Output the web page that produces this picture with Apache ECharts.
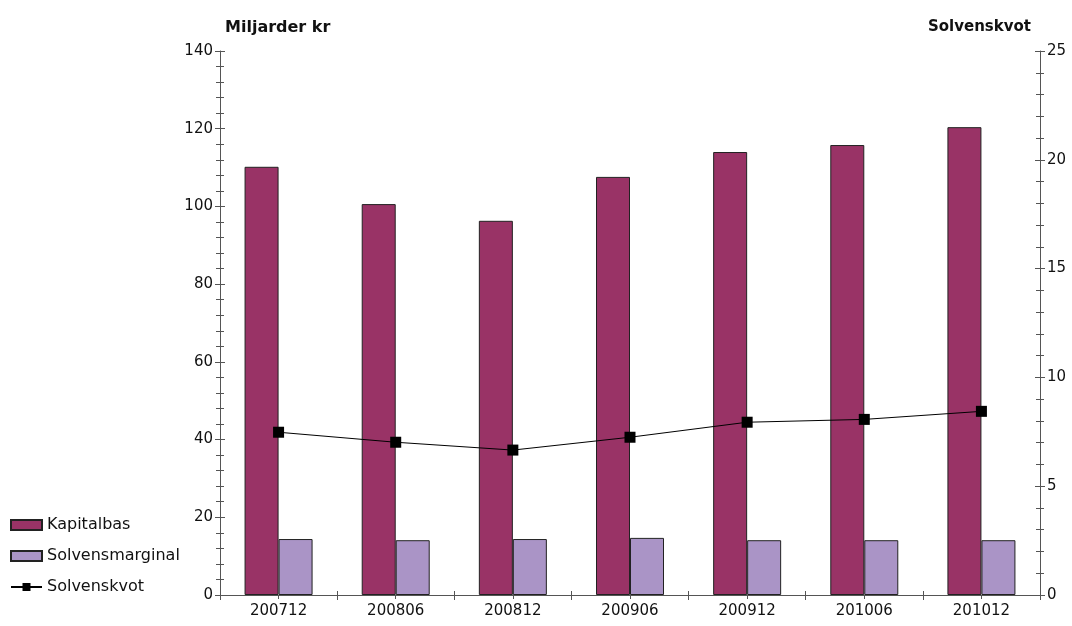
<!DOCTYPE html>
<html>
<head>
<meta charset="utf-8">
<script src="https://cdn.jsdelivr.net/npm/echarts@6/dist/echarts.min.js"></script>
<style>html,body{margin:0;padding:0;background:#fff}#c{width:1072px;height:626px}</style>
</head>
<body>
<div id="c"></div>
<script>
const categories = ['200712', '200806', '200812', '200906', '200912', '201006', '201012'];
const kapitalbas = [110.2, 100.6, 96.3, 107.6, 114.0, 115.8, 120.4];
const solvensmarginal = [14.4, 14.1, 14.4, 14.7, 14.1, 14.1, 14.1];
const solvenskvot = [7.48, 7.02, 6.66, 7.25, 7.94, 8.07, 8.44];
const leftTitle = 'Miljarder kr';
const rightTitle = 'Solvenskvot';

const FONT = 'DejaVu Sans';
const axisCol = '#555';
const chart = echarts.init(document.getElementById('c'));

function yAx(pos, max, interval, labels, inside) {
  return {
    type: 'value', position: pos, min: 0, max: max, interval: interval,
    axisLine: { show: !inside, lineStyle: { color: axisCol, width: 1 } },
    axisTick: { show: true, inside: inside, length: 5, lineStyle: { color: axisCol } },
    minorTick: { show: true, splitNumber: 5, length: 4, lineStyle: { color: axisCol } },
    splitLine: { show: false },
    axisLabel: { show: labels, color: '#111', fontFamily: FONT, fontSize: 15, margin: 7 }
  };
}
function xAx(show, inside, align, len) {
  return {
    type: 'category', data: categories, boundaryGap: true, position: 'bottom',
    axisLine: { show: show, lineStyle: { color: axisCol } },
    axisTick: { show: true, interval: 0, inside: inside, alignWithLabel: align, length: len, lineStyle: { color: axisCol } },
    axisLabel: { show: show, color: '#111', fontFamily: FONT, fontSize: 15, margin: 9 }
  };
}

chart.setOption({
  animation: false,
  backgroundColor: '#fff',
  textStyle: { fontFamily: FONT },
  title: [
    { text: leftTitle, left: 220, top: 15, textStyle: { fontFamily: FONT, fontSize: 16, fontWeight: 'bold', color: '#111' } },
    { text: rightTitle, right: 36, top: 15, textStyle: { fontFamily: FONT, fontSize: 15, fontWeight: 'bold', color: '#111' } }
  ],
  grid: { left: 220, right: 32, top: 51, bottom: 31, containLabel: false },
  legend: {
    orient: 'vertical', left: 5, top: 512, itemGap: 15, itemWidth: 31, itemHeight: 10,
    textStyle: { fontFamily: FONT, fontSize: 16, color: '#111' },
    data: [
      { name: 'Kapitalbas', icon: 'rect' },
      { name: 'Solvensmarginal', icon: 'rect' },
      { name: 'Solvenskvot' }
    ]
  },
  xAxis: [
    xAx(true, false, false, 5),
    xAx(false, true, false, 4),
    xAx(false, false, true, 4)
  ],
  yAxis: [
    yAx('left', 140, 20, true, false),
    yAx('right', 25, 5, true, false),
    yAx('left', 140, 20, false, true),
    yAx('right', 25, 5, false, true)
  ],
  series: [
    {
      name: 'Kapitalbas', type: 'bar', data: kapitalbas, barWidth: 34, barGap: '0%',
      itemStyle: { color: '#993366', borderColor: '#222', borderWidth: 1 }
    },
    {
      name: 'Solvensmarginal', type: 'bar', data: solvensmarginal, barWidth: 34, barGap: '0%',
      itemStyle: { color: '#aa94c6', borderColor: '#222', borderWidth: 1 }
    },
    {
      name: 'Solvenskvot', type: 'line', yAxisIndex: 1, data: solvenskvot,
      symbol: 'rect', symbolSize: 11,
      lineStyle: { color: '#000', width: 1 },
      itemStyle: { color: '#000' }
    }
  ]
});
</script>
</body>
</html>
